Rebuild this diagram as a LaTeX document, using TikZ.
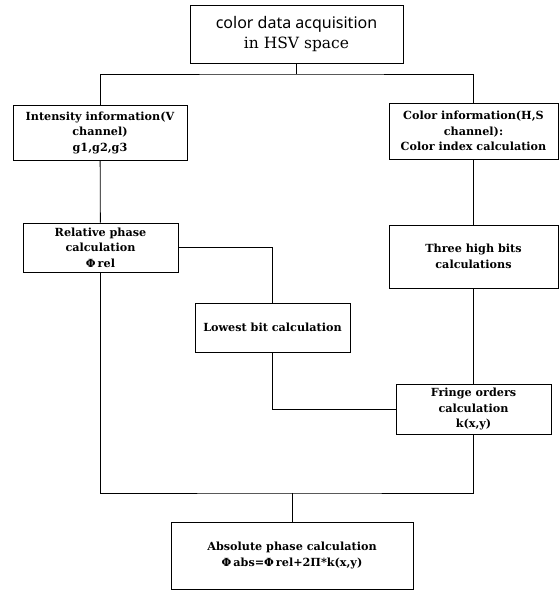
\documentclass[tikz,border=0pt]{standalone}
\usepackage{fontspec}
\setmainfont{DejaVu Serif}
\setsansfont{Noto Sans}
\usepackage{tikz}

\begin{document}
\begin{tikzpicture}[x=1pt,y=-1pt,line width=0.8pt,
  stage/.style={draw,align=center,inner sep=2pt,font=\fontsize{11.2}{15.5}\selectfont\bfseries}]
\useasboundingbox (0,0) rectangle (558,592);
\node[stage,font=\fontsize{15.5}{20}\selectfont,minimum width=213pt,minimum height=58pt] (ACQ) at (296.5,34) {{\sffamily\fontsize{16}{20}\selectfont color data acquisition}\\in HSV space};
\node[stage,minimum width=174pt,minimum height=55pt] (INTEN) at (100,132.5) {Intensity information(V\\channel)\\g1,g2,g3};
\node[stage,minimum width=169pt,minimum height=56pt] (COLOR) at (473.5,131) {Color information(H,S\\channel):\\Color index calculation};
\node[stage,minimum width=155pt,minimum height=49pt] (REL) at (100.5,247.5) {Relative phase\\calculation\\Φ\hspace{2pt}rel};
\node[stage,minimum width=169pt,minimum height=63pt] (HIGH) at (473.5,256.5) {Three high bits\\calculations};
\node[stage,minimum width=155pt,minimum height=49pt] (LOW) at (272.5,327.5) {Lowest bit calculation};
\node[stage,minimum width=155pt,minimum height=50pt] (FRINGE) at (473.5,409) {Fringe orders\\calculation\\k(x,y)};
\node[stage,minimum width=242pt,minimum height=67pt] (ABS) at (292,555.5) {Absolute phase calculation\\Φ\hspace{2pt}abs=Φ\hspace{2pt}rel+2Π*k(x,y)};
\coordinate (SPLIT) at (296.5,74);
\coordinate (MERGE) at (292,493);
\draw (ACQ) -- (SPLIT);
\draw (INTEN.north) |- (SPLIT) -| (COLOR.north);
\draw (INTEN) -- (REL);
\draw (REL.east) -| (LOW.north);
\draw (LOW.south) |- (FRINGE.west);
\draw (COLOR) -- (HIGH);
\draw (HIGH) -- (FRINGE);
\draw (REL.south) |- (MERGE) -| (FRINGE.south);
\draw (MERGE) -- (ABS);
\end{tikzpicture}
\end{document}
